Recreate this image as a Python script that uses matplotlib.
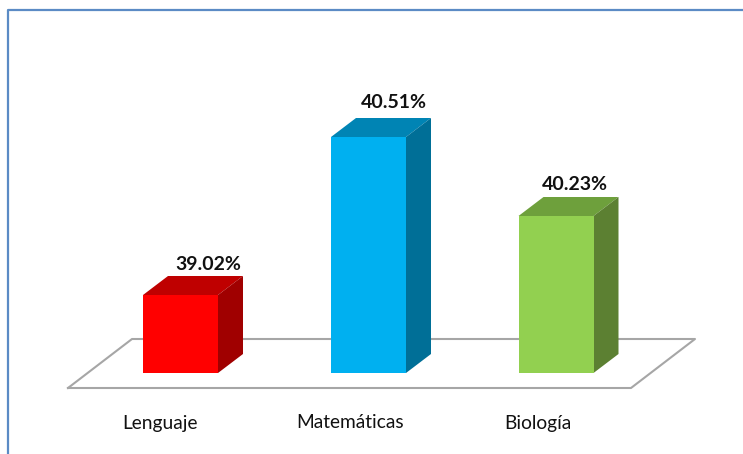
import matplotlib.pyplot as plt

plt.rcParams['font.family'] = ['Lato', 'DejaVu Sans']

categories = ['Lenguaje', 'Matemáticas', 'Biología']
value_labels = ['39.02%', '40.51%', '40.23%']
# bar heights as drawn in the picture (not proportional to the percentages)
bar_heights = [78, 236, 157]
front_colors = ['#FF0000', '#00B0F0', '#92D050']
top_colors = ['#BF0000', '#0084B4', '#6EA03C']
side_colors = ['#A00000', '#006F97', '#5C8032']

centers = [180.5, 368.5, 556]
value_x = [208, 393.5, 574.5]
value_y = [108.5, 270, 188.5]
cat_x = [160.5, 350, 537.5]
bar_w = 75
dx, dy = 25, 19

fig = plt.figure(figsize=(7.43, 4.54), dpi=100)
ax = fig.add_axes([0, 0, 1, 1])
# one unit = one pixel, y=0 on the bar baseline
ax.set_xlim(0, 743)
ax.set_ylim(-81, 373)
ax.axis('off')

# floor
floor_x = [68, 631, 695, 132, 68]
floor_y = [-15, -15, 34, 34, -15]
ax.plot(floor_x, floor_y, color='#A6A6A6', lw=1.5, zorder=1)

for i in range(3):
    left = centers[i] - bar_w / 2
    right = centers[i] + bar_w / 2
    h = bar_heights[i]
    ax.bar(centers[i], h, width=bar_w, color=front_colors[i], zorder=4)
    ax.fill([left, right, right + dx, left + dx], [h, h, h + dy, h + dy],
            color=top_colors[i], lw=0, zorder=3)
    ax.fill([right, right + dx, right + dx, right], [0, dy, h + dy, h],
            color=side_colors[i], lw=0, zorder=3)
    ax.text(value_x[i], value_y[i], value_labels[i], ha='center', va='center',
            fontsize=14, fontweight='bold', color='#111111', zorder=5)
    ax.text(cat_x[i], -50, categories[i], ha='center', va='center',
            fontsize=13.8, color='#111111', zorder=5)

# outer frame: only top and left show in the picture
ax.plot([743, 8, 8], [363, 363, -81], color='#5B8BC5', lw=1.6, zorder=6)

fig.savefig('out.png', dpi=100)
